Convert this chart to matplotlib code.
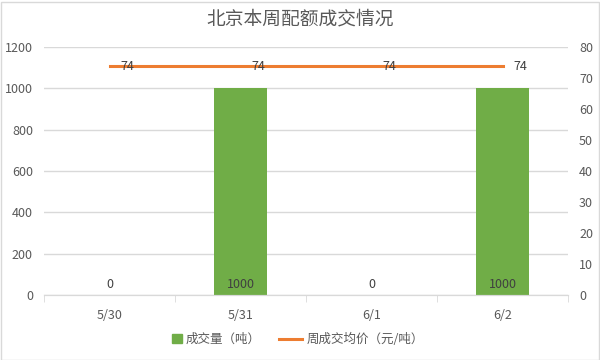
import matplotlib
matplotlib.use("Agg")
import matplotlib.pyplot as plt
from matplotlib.patches import Rectangle

plt.rcParams['font.family'] = ['Noto Sans CJK SC', 'DejaVu Sans']

categories = ["5/30", "5/31", "6/1", "6/2"]
volume = [0, 1000, 0, 1000]
avg_price = [74, 74, 74, 74]
title = "北京本周配额成交情况"
bar_label = "成交量（吨）"
line_label = "周成交均价（元/吨）"

txt = "#595959"
grid = "#d9d9d9"
green = "#70ad47"
orange = "#ed7d31"

fig = plt.figure(figsize=(6, 3.6), dpi=100)
ax = fig.add_axes([44/600, 1 - 295/360, 524/600, 248/360])
ax2 = ax.twinx()

x = list(range(len(categories)))
ax.bar(x, volume, width=0.4, color=green, zorder=2)
ax.set_xlim(-0.5, len(categories) - 0.5)
ax.set_ylim(0, 1200)
ax.set_yticks(range(0, 1201, 200))
ax.grid(axis='y', color=grid, lw=1, zorder=0)
ax.set_axisbelow(True)

ax2.plot(x, avg_price, color=orange, lw=2.2, zorder=3)
ax2.set_ylim(0, 80)
ax2.set_yticks(range(0, 81, 10))

for a in (ax, ax2):
    for s in ('top', 'left', 'right'):
        a.spines[s].set_visible(False)
    a.spines['bottom'].set_color(grid)
    a.tick_params(axis='y', length=0, colors=txt, labelsize=9, pad=8)

ax.set_xticks(x)
ax.set_xticklabels(categories)
ax.tick_params(axis='x', length=0, colors=txt, labelsize=9, pad=10)
ax.set_xticks([i - 0.5 for i in range(len(categories) + 1)], minor=True)
ax.tick_params(axis='x', which='minor', length=5, color=grid)

for i, v in enumerate(volume):
    ax.text(i, 20, f"{v}", ha='center', va='bottom', color="#404040", fontsize=9, zorder=4)
for i, v in enumerate(avg_price):
    ax2.annotate(f"{v}", (i, v), xytext=(8, -1), textcoords='offset points',
                 ha='left', va='center', color="#404040", fontsize=9, zorder=4)

fig.text(0.5, 1 - 19/360, title, ha='center', va='center', fontsize=13.5, color=txt)

# legend
ly = 1 - 339/360
fig.patches.append(Rectangle((172/600, ly - 4/360), 10/600, 9/360, transform=fig.transFigure,
                             color=green, figure=fig))
fig.text(186/600, ly, bar_label, ha='left', va='center', fontsize=9, color=txt)
fig.lines.append(plt.Line2D([279/600, 302/600], [ly, ly], transform=fig.transFigure,
                            color=orange, lw=2.2, figure=fig))
fig.text(307/600, ly, line_label, ha='left', va='center', fontsize=9, color=txt)

# outer border
fig.patches.append(Rectangle((0.5/600, 0.5/360), 598/600, 358/360, transform=fig.transFigure,
                             fill=False, edgecolor=grid, lw=1, figure=fig))

fig.savefig("out.png", dpi=100)
